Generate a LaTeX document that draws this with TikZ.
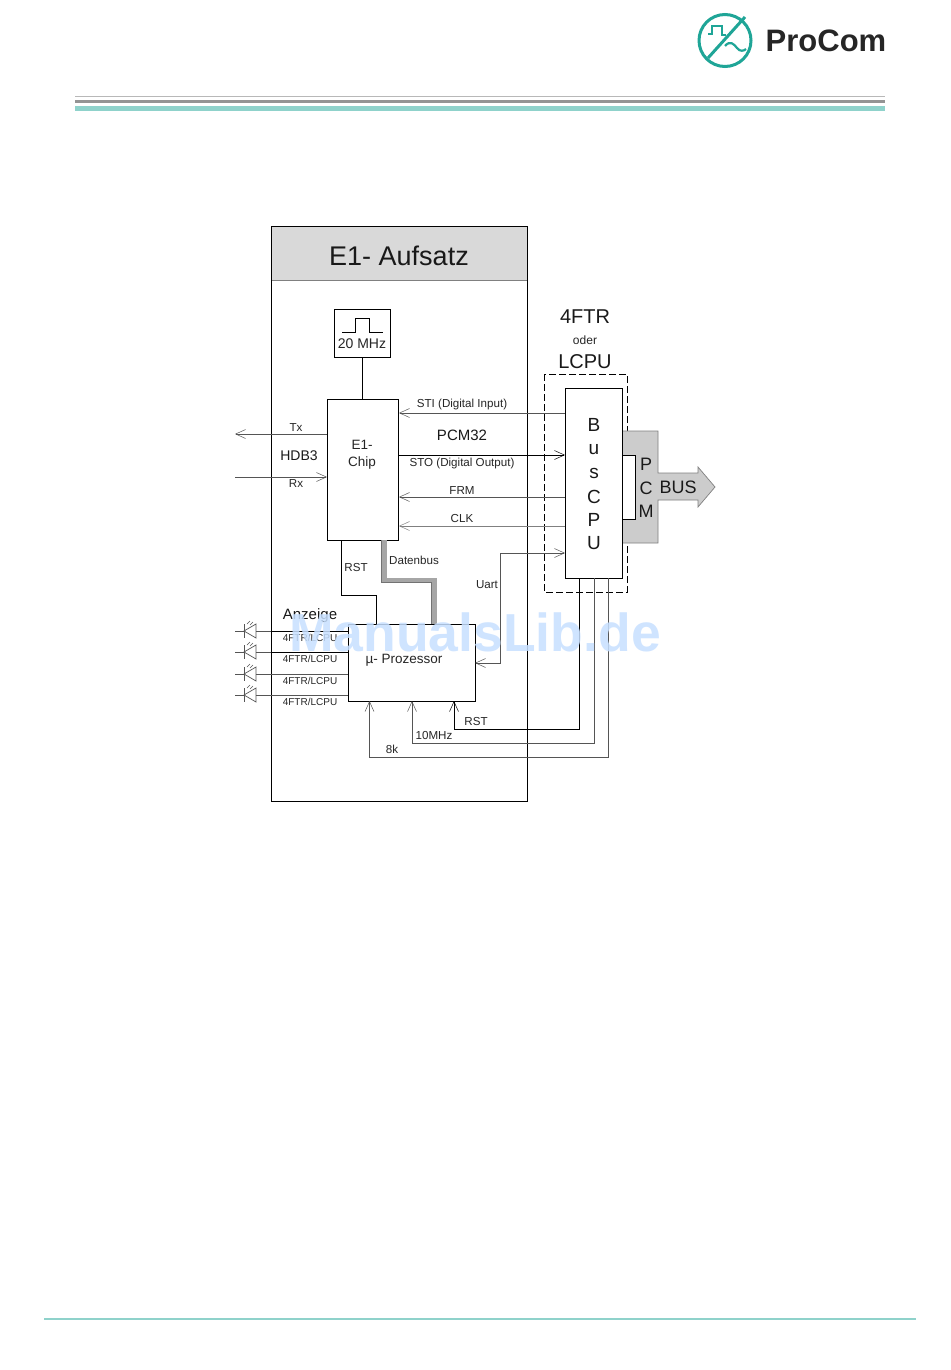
\documentclass[tikz,border=0pt]{standalone}
\usepackage{fontspec}
\setmainfont{Liberation Sans}
\usetikzlibrary{arrows.meta}
\definecolor{teal1}{HTML}{1FA597}
\definecolor{wline}{HTML}{555555}
\newcommand{\fs}[1]{\fontsize{#1}{#1}\selectfont}
\tikzset{
  x=1pt,y=-1pt,
  box/.style={draw=black,line width=0.95pt,fill=white,inner sep=0pt,anchor=north west},
  lbl/.style={inner sep=0pt,text=black!85,font=\fs{11.6}},
  big/.style={inner sep=0pt,text=black!90,font=\fs{17}},
  wire/.style={draw=wline,line width=1pt},
  dwire/.style={draw=black,line width=0.95pt},
  arr/.style={-{Straight Barb[length=10pt,width=9pt,line width=0.5pt]}},
  arrs/.style={{Straight Barb[length=10pt,width=9pt,line width=0.5pt]}-{Straight Barb[length=10pt,width=9pt,line width=0.5pt]}},
  led/.style={draw=wline,line width=0.7pt},
}
\begin{document}
\begin{tikzpicture}
\useasboundingbox[fill=white] (0,0) rectangle (950,1370);
% header and footer
\draw[draw=black!28!white,line width=1pt] (75,97) -- (885,97);
\draw[draw=black!42,line width=3.2pt] (75,101.5) -- (885,101.5);
\draw[draw=teal1!50!white,line width=4.4pt] (75,108.5) -- (885,108.5);
\draw[draw=teal1!50!white,line width=2.8pt] (44,1319) -- (916,1319);
% logo
\draw[draw=teal1,line width=3pt] (725,40.5) circle (26);
\draw[draw=teal1,line width=3pt] (708,58) -- (745,17);
\draw[draw=teal1,line width=2.2pt] (708,34) -- (712,34) -- (712,26) -- (722,26) -- (722,35) -- (726,35);
\draw[draw=teal1,line width=2.2pt] (725,46) .. controls (730,40) and (734,44) .. (737,48) .. controls (740,52) and (744,51) .. (746,49);
\node[inner sep=0pt,font=\fs{31}\bfseries,text=black!85] (brand) at (826,41) {ProCom};
% outer frame
\node[box,minimum width=256pt,minimum height=575pt] (frame) at (271,226) {};
\node[box,draw=black!50,fill=black!15,minimum width=256pt,minimum height=54pt] (head) at (271,226) {};
\draw[line width=0.95pt] (271,226) rectangle (527,801);
\node[inner sep=0pt,font=\fs{27},text=black!90] (title) at (399,256) {E1- Aufsatz};
% dashed
\draw[dash pattern=on 7pt off 3pt,line width=0.95pt] (544,374) rectangle (627,592);
% PCM shape
\fill[black!20] (622,431) -- (658,431) -- (658,473) -- (698,473) -- (698,467) -- (715,487) -- (698,507) -- (698,500) -- (658,500) -- (658,543) -- (622,543) -- cycle;
\draw[draw=black!50,line width=0.7pt] (622,431) -- (658,431) -- (658,473) -- (698,473) -- (698,467) -- (715,487) -- (698,507) -- (698,500) -- (658,500) -- (658,543) -- (622,543);
\fill[white] (622,455) rectangle (635,519);
\draw[line width=0.95pt] (622,455) -- (635,455) -- (635,519) -- (622,519);
% boxes
\node[box,minimum width=56pt,minimum height=48pt] (clock) at (334,309) {};
\node[box,minimum width=71pt,minimum height=141pt] (chip) at (327,399) {};
\node[box,minimum width=57pt,minimum height=190pt] (cpu) at (565,388) {};
% texts in boxes
\draw[line width=0.9pt] (342,332) -- (355,332) -- (355,318) -- (369,318) -- (369,332) -- (383,332);
\node[lbl,font=\fs{14}] (clk20) at (362,344) {20 MHz};
\node[lbl,font=\fs{13.5},align=center] (chiptxt) at (362,455) {E1-\\[3pt]Chip};
\foreach \n/\t/\yy in {b/B/425,u/u/450,s/s/473,c/C/497,p/P/520,uu/U/543}
  \node[big,font=\fs{19}] (cpu\n) at (594,\yy) {\t};
\foreach \n/\t/\yy in {pp/P/464,pc/C/488,pm/M/511}
  \node[big,font=\fs{18}] (pcm\n) at (646,\yy) {\t};
\node[big,font=\fs{18}] (bus) at (678,487) {BUS};
\node[big,font=\fs{20}] (ftr) at (585,317) {4FTR};
\node[lbl,font=\fs{12}] (oder) at (585,340) {oder};
\node[big,font=\fs{20}] (lcpu) at (585,362) {LCPU};
% clock link
\draw[dwire] (clock.south) -- (chip.north -| clock.south);
% signals
\coordinate (txend) at (235,434);
\coordinate (rxstart) at (235,477);
\draw[wire,arr] (chip.west |- txend) -- (txend);
\draw[wire,arr] (rxstart) -- (chip.west |- rxstart);
\node[lbl] (tx) at (296,428) {Tx};
\node[lbl] (rx) at (296,484) {Rx};
\node[big,font=\fs{14}] (hdb) at (299,456) {HDB3};
\coordinate (sti) at (565,413);
\coordinate (sto) at (398,455);
\coordinate (frm) at (565,497);
\coordinate (clks) at (565,526);
\draw[wire,arr] (sti) -- (chip.east |- sti);
\draw[dwire,arr] (sto) -- (cpu.west |- sto);
\draw[wire,arr] (frm) -- (chip.east |- frm);
\draw[wire,arr,draw=black!50] (clks) -- (chip.east |- clks);
\node[lbl] (stit) at (462,404) {STI (Digital Input)};
\node[big,font=\fs{15}] (pcm32) at (462,435) {PCM32};
\node[lbl] (stot) at (462,463) {STO (Digital Output)};
\node[lbl] (frmt) at (462,491) {FRM};
\node[lbl] (clkt) at (462,519) {CLK};
% µP
\node[box,minimum width=127pt,minimum height=77pt] (mp) at (348,624) {};
\node[lbl,font=\fs{13.5}] (mpt) at (404,660) {µ- Prozessor};
% RST, Datenbus
\draw[dwire] (341,540) -- (341,595) -- (376,595) -- (376,624);
\node[lbl] (rstt) at (356,568) {RST};
\draw[draw=black!35,line width=5pt] (384,540) -- (384,580) -- (434,580) -- (434,624);
\draw[draw=black!55,line width=0.5pt] (381.5,540) -- (381.5,582.5) -- (431.5,582.5) -- (431.5,624);
\node[lbl] (dbt) at (414,560) {Datenbus};
% Uart
\draw[wire,arrs] (565,553) -- (500,553) -- (500,663) -- (475,663);
\node[lbl] (uart) at (487,585) {Uart};
% bottom
\draw[dwire,arr] (579,578) -- (579,729) -- (454,729) -- (454,701);
\draw[wire,arr] (594.5,578) -- (594.5,743) -- (412,743) -- (412,701);
\draw[wire,arr] (608.5,578) -- (608.5,757) -- (369.5,757) -- (369.5,701);
\node[lbl] (rst2) at (476,721) {RST};
\node[lbl] (mhz) at (434,735) {10MHz};
\node[lbl] (k8) at (392,749) {8k};
% LEDs
\node[big,font=\fs{15}] (anz) at (310,616) {Anzeige};
\foreach \i/\yy/\c in {1/631/black,2/652/black,3/674/wline,4/695/wline}{
  \node[lbl,font=\fs{10}] (ftr\i) at (310,\yy+7) {4FTR/LCPU};
  \draw[wire] (256,\yy) -- (271,\yy);
  \draw[draw=\c,line width=0.95pt] (271,\yy) -- (348,\yy);
  \draw[led] (235,\yy) -- (244,\yy);
  \draw[led] (244,\yy-7) -- (244,\yy+7);
  \draw[led] (244,\yy) -- (256,\yy-7) -- (256,\yy+7) -- cycle;
  \draw[led,line width=0.5pt] (247,\yy-7) -- (250,\yy-10);
  \draw[led,line width=0.5pt] (250,\yy-6) -- (253,\yy-9);
}
% watermark
\node[inner sep=0pt,font=\fs{53.5}\bfseries,text=blue!55!cyan!22!white,opacity=0.85] (wm) at (475,632) {ManualsLib.de};
\end{tikzpicture}
\end{document}
